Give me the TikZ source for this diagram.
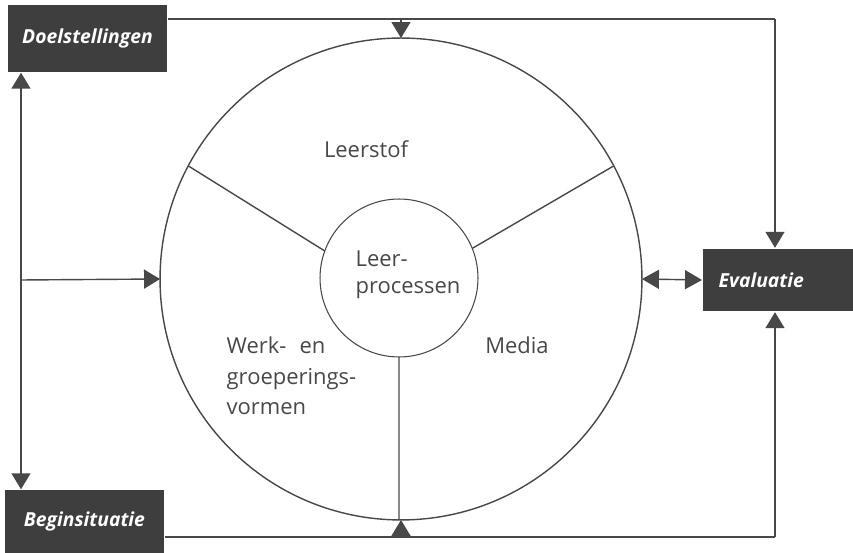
\documentclass[tikz,border=0pt]{standalone}
\usepackage{fontspec}
\setmainfont{Open Sans}
\usetikzlibrary{arrows.meta,positioning}
\definecolor{boxgray}{RGB}{62,62,62}
\definecolor{linegray}{RGB}{72,72,72}

\begin{document}
\begin{tikzpicture}[x=0.02cm,y=-0.02cm,color=linegray,line width=0.8pt,
  blok/.style={fill=boxgray,text=white,font=\fontsize{11}{13}\selectfont\bfseries\itshape,minimum height=1.26cm,inner sep=0pt},
  lbl/.style={font=\fontsize{12.5}{15.5}\selectfont,inner sep=0pt},
  pijl/.style={-{Triangle[length=0.32cm,width=0.38cm]}},
  dubbel/.style={{Triangle[length=0.34cm,width=0.38cm]}-{Triangle[length=0.34cm,width=0.38cm]}}]
\useasboundingbox (0,0) rectangle (853,553);
\node[draw,circle,minimum size=9.64cm,inner sep=0pt,outer sep=0pt] (kring) at (401,279) {};
\node[draw,circle,minimum size=3.16cm,inner sep=0pt,outer sep=0pt,line width=0.6pt] (kern) at (399,278) {};
\node[blok,minimum width=3.18cm,minimum height=1.34cm] (doel) at (87.5,38.5) {Doelstellingen};
\node[blok,minimum width=3.18cm] (begin) at (84.5,521.5) {Beginsituatie};
\node[blok,anchor=west,text width=2.38cm,align=left,inner xsep=0.32cm] (eval) at (702,280) {Evaluatie};
\coordinate (lx) at (21,280);
\coordinate (tr) at (775,19);
\coordinate (br) at (775,537);
\draw (doel.east |- tr) -- (tr);
\draw[pijl] (tr) -- (eval.north -| tr);
\draw[pijl] (kring.north |- tr) -- (kring.north);
\draw (begin.east |- br) -- (br);
\draw[pijl] (br) -- (eval.south -| br);
\draw[pijl] (kring.south |- br) -- (kring.south);
\draw[pijl] (lx) -- (lx |- doel.south);
\draw[pijl] (lx) -- (lx |- begin.north);
\draw[pijl] (lx) -- (kring.west);
\draw[dubbel] (kring.east) -- (eval.west);
\draw (kring.152) -- (kern.160) (kring.28) -- (kern.22) (kern.south) -- (kern.south |- kring.south);
\node[lbl] (stof) at (366,149) {Leerstof};
\node[lbl,anchor=west,align=left] (proc) at (355,275) {Leer-\\processen};
\node[lbl,anchor=west,align=left,font=\fontsize{12.5}{17.5}\selectfont] (werk) at (226,376) {Werk-\hspace{0.6em}en\\groeperings-\\vormen};
\node[lbl] (media) at (517,345) {Media};
\end{tikzpicture}
\end{document}
